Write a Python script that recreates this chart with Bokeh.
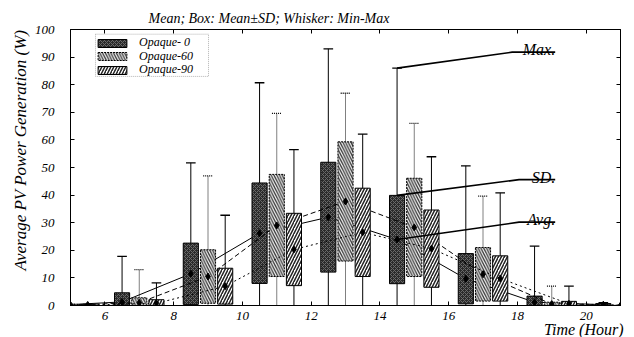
import numpy as np
from bokeh.plotting import figure
from bokeh.models import (Range1d, LinearAxis, Label, Legend, LegendItem, FixedTicker,
                          Title, BoxAnnotation)
from bokeh.embed import file_html
from bokeh.resources import INLINE

# ---- data ----
hours = [4, 6, 8, 10, 12, 14, 16, 18, 20]          # group start hour
labels = ["Opaque- 0", "Opaque-60", "Opaque-90"]
mean_0 = [0.0, 1.3, 11.5, 26.2, 32.0, 23.9, 9.7, 1.2, 0.3]
sd_0 = [0.0, 3.3, 11.1, 18.2, 19.9, 16.0, 9.1, 2.2, 0.4]
min_0 = [0.0, 0.0, 0.0, 0.0, 0.0, 0.0, 0.0, 0.0, 0.0]
max_0 = [0.0, 17.8, 51.7, 80.7, 93.0, 86.0, 50.6, 21.5, 1.0]
mean_60 = [0.2, 1.0, 10.5, 29.0, 37.7, 28.3, 11.3, 0.5, 0.0]
sd_60 = [0.2, 1.8, 9.7, 18.5, 21.6, 17.8, 9.7, 0.7, 0.0]
min_60 = [0.0, 0.0, 0.0, 0.0, 0.0, 0.0, 0.0, 0.0, 0.0]
max_60 = [0.5, 13.0, 47.0, 69.6, 76.9, 66.0, 39.6, 7.0, 0.0]
mean_90 = [0.2, 0.8, 7.0, 20.3, 26.5, 20.6, 9.8, 0.6, 0.0]
sd_90 = [0.2, 1.3, 6.5, 13.1, 16.0, 14.0, 8.2, 0.9, 0.0]
min_90 = [0.0, 0.0, 0.0, 0.0, 0.0, 0.0, 0.0, 0.0, 0.0]
max_90 = [0.4, 8.2, 32.7, 56.5, 62.1, 53.9, 40.8, 7.0, 0.0]
x_ticks = [6, 8, 10, 12, 14, 16, 18, 20]
y_ticks = [0, 10, 20, 30, 40, 50, 60, 70, 80, 90, 100]

FONT = "Liberation Serif"

p = figure(width=634, height=337, output_backend="svg", toolbar_location=None,
           x_range=Range1d(5, 21), y_range=Range1d(0, 100),
           min_border_left=70, min_border_right=14, min_border_top=29, min_border_bottom=32)
p.xgrid.visible = False
p.ygrid.visible = False
p.outline_line_color = "black"
p.outline_line_width = 1
p.background_fill_color = "white"

p.title.text = "Mean; Box: Mean\u00b1SD; Whisker: Min-Max"
p.title.align = "left"
p.title.offset = 78
p.title.standoff = 8
p.title.text_font = FONT
p.title.text_font_style = "italic"
p.title.text_font_size = "14px"
p.title.text_color = "black"

for ax, ticks in ((p.xaxis[0], x_ticks), (p.yaxis[0], y_ticks)):
    ax.ticker = FixedTicker(ticks=ticks)
    ax.minor_tick_line_color = None
    ax.major_tick_in = 4
    ax.major_tick_out = 0
    ax.axis_line_color = "black"
    ax.major_label_text_font = FONT
    ax.major_label_text_font_style = "italic"
    ax.major_label_text_font_size = "13px"
    ax.major_label_text_color = "black"
p.xaxis.major_label_standoff = 6
p.yaxis.major_label_standoff = 16

xlab = Title(text="Time (Hour)", align="right", offset=-3, standoff=-8,
             text_font=FONT, text_font_style="italic", text_font_size="16px",
             text_color="black")
p.add_layout(xlab, "below")

ylab = Title(text="Average PV Power Generation (W)", align="left", offset=35, standoff=3,
             text_font=FONT, text_font_style="italic", text_font_size="17px",
             text_color="black")
p.add_layout(ylab, "left")

for loc, ticks in (("right", y_ticks), ("above", x_ticks)):
    ax = LinearAxis(ticker=FixedTicker(ticks=ticks), major_tick_in=4, major_tick_out=0,
                    minor_tick_line_color=None, major_label_text_font_size="0px",
                    major_label_standoff=0, axis_line_color="black")
    p.add_layout(ax, loc)

specs = [
    dict(off=0.5, mean=mean_0, sd=sd_0, mn=min_0, mx=max_0,
         fill="#2a2a2a", hatch="diagonal_cross", hcol="#6a6a6a", hscale=4.0, hw=1.0,
         box_dash="solid", wdash="solid", mdash="solid"),
    dict(off=1.0, mean=mean_60, sd=sd_60, mn=min_60, mx=max_60,
         fill="#f4f4f4", hatch="left_diagonal_line", hcol="#3a3a3a", hscale=5.5, hw=1.3,
         box_dash="2 1", wdash="1 1", mdash="5 3"),
    dict(off=1.5, mean=mean_90, sd=sd_90, mn=min_90, mx=max_90,
         fill="white", hatch="right_diagonal_line", hcol="#222222", hscale=6.0, hw=1.5,
         box_dash="solid", wdash="solid", mdash="2 3"),
]

W = 0.44
CAP = 0.28
box_renderers = []
for s in specs:
    x = np.array(hours, dtype=float) + s["off"]
    m = np.array(s["mean"])
    sd = np.array(s["sd"])
    top = m + sd
    bot = np.clip(m - sd, 0, None)
    p.line(x, m, line_color="black", line_width=1, line_dash=s["mdash"])
    p.segment(x, s["mn"], x, s["mx"], line_color="black", line_width=1, line_dash=s["wdash"])
    p.segment(x - CAP / 2, s["mx"], x + CAP / 2, s["mx"], line_color="black",
              line_width=1.3, line_dash=s["wdash"])
    r = p.vbar(x=x, width=W, top=top, bottom=bot, fill_color=s["fill"],
               line_color="black", line_width=1, line_dash=s["box_dash"],
               hatch_pattern=s["hatch"], hatch_color=s["hcol"], hatch_scale=s["hscale"],
               hatch_weight=s["hw"])
    box_renderers.append(r)
    p.scatter(x, m, marker="diamond", size=7, fill_color="black", line_color="black")

# legend frame (dotted) and one legend per entry so rows can sit tightly
p.add_layout(BoxAnnotation(left=5.727, right=9.015, top=98.3, bottom=83.0,
                           fill_color="white", fill_alpha=1, line_color="black",
                           line_dash="1 1", line_width=1))
leg_y = [255, 241.5, 228]
for lab, r, ly in zip(labels, box_renderers, leg_y):
    lg = Legend(items=[LegendItem(label=lab, renderers=[r])], location=(24, ly),
                label_text_font=FONT, label_text_font_style="italic",
                label_text_font_size="12px", label_text_color="black",
                glyph_width=36, glyph_height=10, label_height=10, spacing=0,
                padding=0, margin=0, label_standoff=9,
                border_line_color=None, background_fill_alpha=0)
    p.add_layout(lg)

# callout annotations (start at the 14-16 h Opaque-0 max / mean+SD / mean)
i14 = hours.index(14)
x14 = hours[i14] + specs[0]["off"]
callouts = [
    ("Max.", max_0[i14], 17.85, 91.8),
    ("SD.", mean_0[i14] + sd_0[i14], 18.05, 45.6),
    ("Avg.", mean_0[i14], 18.05, 30.2),
]
X_END = 19.1
for txt, y0, xk, yk in callouts:
    p.line([x14, xk, X_END], [y0, yk, yk], line_color="black", line_width=1.6)
    p.add_layout(Label(x=X_END, y=yk + 0.8, text=txt, text_align="right",
                       text_baseline="alphabetic", text_font=FONT,
                       text_font_style="italic", text_font_size="16px", text_color="black"))

open("out.html", "w").write(file_html(p, INLINE))
